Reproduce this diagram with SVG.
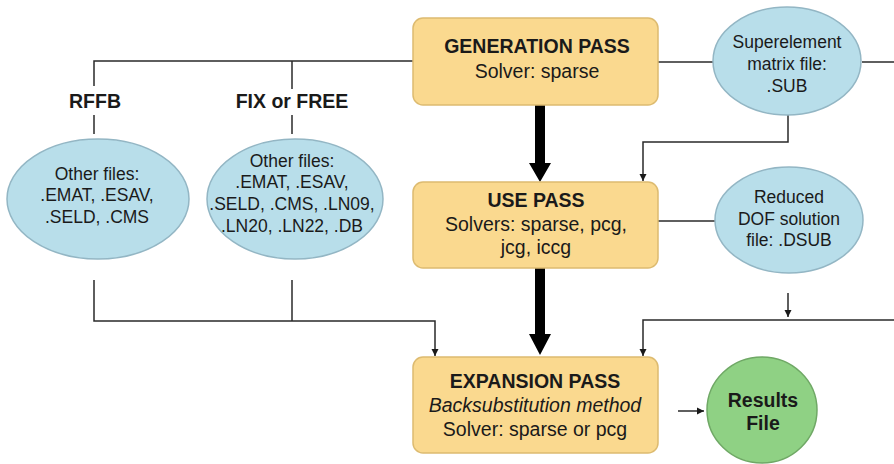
<svg xmlns="http://www.w3.org/2000/svg" width="894" height="464" viewBox="0 0 894 464">
<defs>
<style>
.box{fill:#FAD98F;stroke:#DDBB70;stroke-width:1.5}
.ell{fill:#B8DEEA;stroke:#93B6C4;stroke-width:1.5}
.grn{fill:#8FD184;stroke:#6FA865;stroke-width:1.5}
.t{font-family:"Liberation Sans",Arial,sans-serif;fill:#1a1a1a;text-anchor:middle}
.bt{font-size:19.5px}
.b{font-weight:bold}
.i{font-style:italic}
.et{font-size:17.5px}
.ln{fill:none;stroke:#2a2a2a;stroke-width:1.5}
.thick{fill:#000}
</style>
<marker id="ah" viewBox="0 0 10 10" refX="10" refY="5" markerWidth="7" markerHeight="8" markerUnits="userSpaceOnUse" orient="auto">
<path d="M0,0 L10,5 L0,10 z" fill="#1a1a1a"/>
</marker>
</defs>
<g id="connectors">
<path class="ln" d="M413,61 H94 V86"/>
<path class="ln" d="M292,61 V89"/>
<path class="ln" d="M94,115 V134"/>
<path class="ln" d="M292,115 V134"/>
<path class="ln" d="M658,62 H713"/>
<path class="ln" d="M862,62 H894"/>
<path class="ln" d="M788,115 V142 H643 V181" marker-end="url(#ah)"/>
<path class="ln" d="M658,221 H715"/>
<path class="ln" d="M94,280 V321 H435 V356" marker-end="url(#ah)"/>
<path class="ln" d="M292,280 V321"/>
<path class="ln" d="M894,320 H643 V356" marker-end="url(#ah)"/>
<path class="ln" d="M788,293 V317" marker-end="url(#ah)"/>
<path class="ln" d="M678,411 H704" marker-end="url(#ah)"/>
<path class="thick" d="M535,105 H545 V163 H551 L540,182 L529,163 H535 Z"/>
<path class="thick" d="M535,268 H545 V334 H551 L540,355 L529,334 H535 Z"/>
</g>
<g id="gen">
<rect class="box" x="413" y="18" width="245" height="87" rx="10"/>
<text class="t bt b" x="537" y="53">GENERATION PASS</text>
<text class="t bt" x="537" y="78">Solver: sparse</text>
</g>
<g id="use">
<rect class="box" x="413" y="182" width="245" height="86" rx="10"/>
<text class="t bt b" x="536" y="207">USE PASS</text>
<text class="t bt" x="536" y="231">Solvers: sparse, pcg,</text>
<text class="t bt" x="536" y="254">jcg, iccg</text>
</g>
<g id="exp">
<rect class="box" x="413" y="357" width="245" height="96" rx="10"/>
<text class="t bt b" x="535" y="388">EXPANSION PASS</text>
<text class="t bt i" x="535" y="412">Backsubstitution method</text>
<text class="t bt" x="535" y="436">Solver: sparse or pcg</text>
</g>
<g id="sub">
<ellipse class="ell" cx="787" cy="61" rx="74" ry="54"/>
<text class="t et" x="787" y="48">Superelement</text>
<text class="t et" x="787" y="70">matrix file:</text>
<text class="t et" x="787" y="92">.SUB</text>
</g>
<g id="dsub">
<ellipse class="ell" cx="789" cy="220" rx="74" ry="53"/>
<text class="t et" x="789" y="203">Reduced</text>
<text class="t et" x="789" y="225">DOF solution</text>
<text class="t et" x="789" y="246">file: .DSUB</text>
</g>
<g id="rffb-label">
<text class="t bt b" x="95" y="108">RFFB</text>
</g>
<g id="fix-label">
<text class="t bt b" x="292" y="108">FIX or FREE</text>
</g>
<g id="rffb-files">
<ellipse class="ell" cx="98" cy="199" rx="91" ry="60"/>
<text class="t et" x="97" y="180">Other files:</text>
<text class="t et" x="97" y="201">.EMAT, .ESAV,</text>
<text class="t et" x="97" y="223">.SELD, .CMS</text>
</g>
<g id="fix-files">
<ellipse class="ell" cx="295" cy="199" rx="88" ry="60"/>
<text class="t et" x="292" y="167">Other files:</text>
<text class="t et" x="292" y="188">.EMAT, .ESAV,</text>
<text class="t et" x="292" y="210">.SELD, .CMS, .LN09,</text>
<text class="t et" x="292" y="232">.LN20, .LN22, .DB</text>
</g>
<g id="results">
<ellipse class="grn" cx="762" cy="410" rx="55" ry="53"/>
<text class="t bt b" x="763" y="407">Results</text>
<text class="t bt b" x="763" y="430">File</text>
</g>
</svg>
